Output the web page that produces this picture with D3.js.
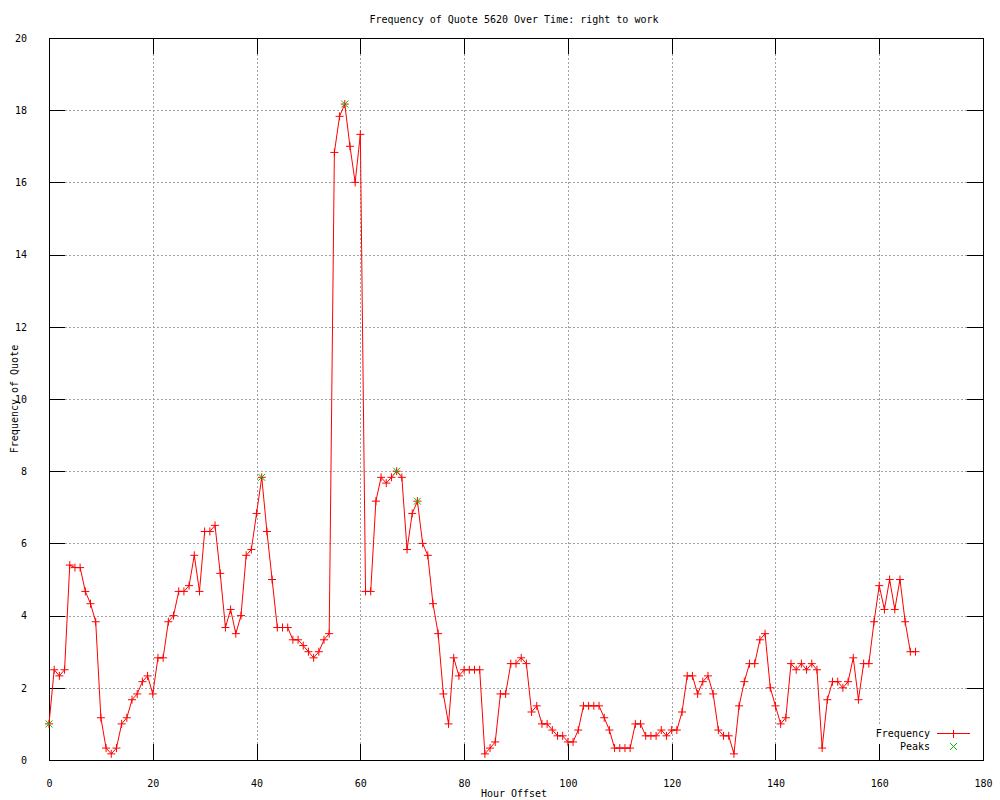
<!DOCTYPE html>
<html>
<head>
<meta charset="utf-8">
<script src="https://cdn.jsdelivr.net/npm/d3@7"></script>
<style>
  html, body { margin: 0; padding: 0; background: #fff; }
  svg text { font-family: "DejaVu Sans Mono", "Liberation Mono", monospace; font-size: 10px; fill: #000; }
</style>
</head>
<body>
<svg id="chart" width="1000" height="800"></svg>
<script>
// ---- data (hour offset = index) ----
const frequency = [
  1.0, 2.5, 2.33, 2.5, 5.4, 5.33, 5.33, 4.67, 4.33, 3.83,
  1.17, 0.33, 0.17, 0.33, 1.0, 1.17, 1.67, 1.83, 2.17, 2.33,
  1.83, 2.83, 2.83, 3.83, 4.0, 4.67, 4.67, 4.83, 5.67, 4.67,
  6.33, 6.33, 6.5, 5.17, 3.67, 4.17, 3.5, 4.0, 5.67, 5.83,
  6.83, 7.83, 6.33, 5.0, 3.67, 3.67, 3.67, 3.33, 3.33, 3.17,
  3.0, 2.83, 3.0, 3.33, 3.5, 16.83, 17.83, 18.17, 17.0, 16.0,
  17.33, 4.67, 4.67, 7.17, 7.83, 7.67, 7.83, 8.0, 7.83, 5.83,
  6.83, 7.17, 6.0, 5.67, 4.33, 3.5, 1.83, 1.0, 2.83, 2.33,
  2.5, 2.5, 2.5, 2.5, 0.17, 0.33, 0.5, 1.83, 1.83, 2.67,
  2.67, 2.83, 2.67, 1.33, 1.5, 1.0, 1.0, 0.83, 0.67, 0.67,
  0.5, 0.5, 0.83, 1.5, 1.5, 1.5, 1.5, 1.17, 0.83, 0.33,
  0.33, 0.33, 0.33, 1.0, 1.0, 0.67, 0.67, 0.67, 0.83, 0.67,
  0.83, 0.83, 1.33, 2.33, 2.33, 1.83, 2.17, 2.33, 1.83, 0.83,
  0.67, 0.67, 0.17, 1.5, 2.17, 2.67, 2.67, 3.33, 3.5, 2.0,
  1.5, 1.0, 1.17, 2.67, 2.5, 2.67, 2.5, 2.67, 2.5, 0.33,
  1.67, 2.17, 2.17, 2.0, 2.17, 2.83, 1.67, 2.67, 2.67, 3.83,
  4.83, 4.17, 5.0, 4.17, 5.0, 3.83, 3.0, 3.0
];
const peakHours = [0, 41, 57, 67, 71];
const xTicks = [0, 20, 40, 60, 80, 100, 120, 140, 160, 180];
const yTicks = [0, 2, 4, 6, 8, 10, 12, 14, 16, 18, 20];
const titleText = "Frequency of Quote 5620 Over Time: right to work";
const xLabel = "Hour Offset";
const yLabel = "Frequency of Quote";
const legendLabels = ["Frequency", "Peaks"];

// ---- layout ----
const L = 49, R = 983, T = 38, B = 760;
const svg = d3.select("#chart");
const x = d3.scaleLinear().domain([0, 180]).range([L, R]);
const y = d3.scaleLinear().domain([0, 20]).range([B, T]);

svg.append("rect").attr("width", 1000).attr("height", 800).attr("fill", "#fff");

// grid
const grid = svg.append("g").attr("shape-rendering", "crispEdges")
  .attr("stroke", "#a0a0a0").attr("stroke-width", 1).attr("stroke-dasharray", "2,2");
grid.selectAll("line.gx").data(xTicks.slice(1, -1)).join("line")
  .attr("x1", d => Math.round(x(d)) + 0.5).attr("x2", d => Math.round(x(d)) + 0.5)
  .attr("y1", T).attr("y2", B);
grid.selectAll("line.gy").data(yTicks.slice(1, -1)).join("line")
  .attr("y1", d => Math.round(y(d)) + 0.5).attr("y2", d => Math.round(y(d)) + 0.5)
  .attr("x1", L).attr("x2", R);

// legend background (hides grid behind legend)
svg.append("rect").attr("x", 866).attr("y", 726).attr("width", 112).attr("height", 27).attr("fill", "#fff");

// axes with inward ticks, mirrored
const tl = 16;
const axB = d3.axisBottom(x).tickValues(xTicks).tickSizeInner(-tl).tickSizeOuter(0).tickPadding(tl + 4);
const axT = d3.axisTop(x).tickValues(xTicks).tickSizeInner(-tl).tickSizeOuter(0).tickFormat("");
const axL = d3.axisLeft(y).tickValues(yTicks).tickSizeInner(-tl).tickSizeOuter(0).tickPadding(tl + 6);
const axR = d3.axisRight(y).tickValues(yTicks).tickSizeInner(-tl).tickSizeOuter(0).tickFormat("");

function styleAxis(g) {
  g.attr("shape-rendering", "crispEdges");
  g.select(".domain").remove();
  g.selectAll("line").attr("stroke", "#000");
  g.selectAll("text").attr("font-family", null).attr("font-size", null);
}
svg.append("g").attr("transform", `translate(0,${B})`).call(axB).call(styleAxis);
svg.append("g").attr("transform", `translate(0,${T})`).call(axT).call(styleAxis);
svg.append("g").attr("transform", `translate(${L},0)`).call(axL).call(styleAxis);
svg.append("g").attr("transform", `translate(${R},0)`).call(axR).call(styleAxis);

// border
svg.append("rect").attr("x", L + 0.5).attr("y", T + 0.5).attr("width", R - L).attr("height", B - T)
  .attr("fill", "none").attr("stroke", "#000").attr("shape-rendering", "crispEdges");

// frequency line
const data = frequency.map((v, i) => ({ h: i, v }));
const line = d3.line().x(d => x(d.h)).y(d => y(d.v));
svg.append("path").datum(data).attr("d", line)
  .attr("fill", "none").attr("stroke", "#ff0000").attr("stroke-width", 1);

// + markers
const ps = 4;
const plus = d => `M${x(d.h) - ps},${y(d.v)}h${2 * ps}M${x(d.h)},${y(d.v) - ps}v${2 * ps}`;
svg.append("g").selectAll("path").data(data).join("path")
  .attr("d", plus).attr("stroke", "#ff0000").attr("stroke-width", 1).attr("fill", "none");

// peak x markers
const xs = 3.5;
const cross = (cx, cy) => `M${cx - xs},${cy - xs}L${cx + xs},${cy + xs}M${cx - xs},${cy + xs}L${cx + xs},${cy - xs}`;
svg.append("g").selectAll("path").data(peakHours.map(h => ({ h, v: frequency[h] }))).join("path")
  .attr("d", d => cross(x(d.h), y(d.v))).attr("stroke", "#00c000").attr("stroke-width", 1).attr("fill", "none");

// legend
svg.append("text").attr("x", 930).attr("y", 733).attr("dy", "0.35em").attr("text-anchor", "end").text(legendLabels[0]);
svg.append("text").attr("x", 930).attr("y", 746).attr("dy", "0.35em").attr("text-anchor", "end").text(legendLabels[1]);
svg.append("path").attr("d", "M937,733.5H970").attr("stroke", "#ff0000").attr("fill", "none").attr("shape-rendering", "crispEdges");
svg.append("path").attr("d", `M953.5,${733.5 - ps}v${2 * ps}`).attr("stroke", "#ff0000").attr("fill", "none").attr("shape-rendering", "crispEdges");
svg.append("path").attr("d", cross(953.5, 746.5)).attr("stroke", "#00c000").attr("fill", "none");

// titles
svg.append("text").attr("x", 514).attr("y", 19).attr("dy", "0.35em").attr("text-anchor", "middle").text(titleText);
svg.append("text").attr("x", 514).attr("y", 793).attr("dy", "0.35em").attr("text-anchor", "middle").text(xLabel);
svg.append("text").attr("transform", "translate(14,399) rotate(-90)").attr("dy", "0.35em").attr("text-anchor", "middle").text(yLabel);
</script>
</body>
</html>
